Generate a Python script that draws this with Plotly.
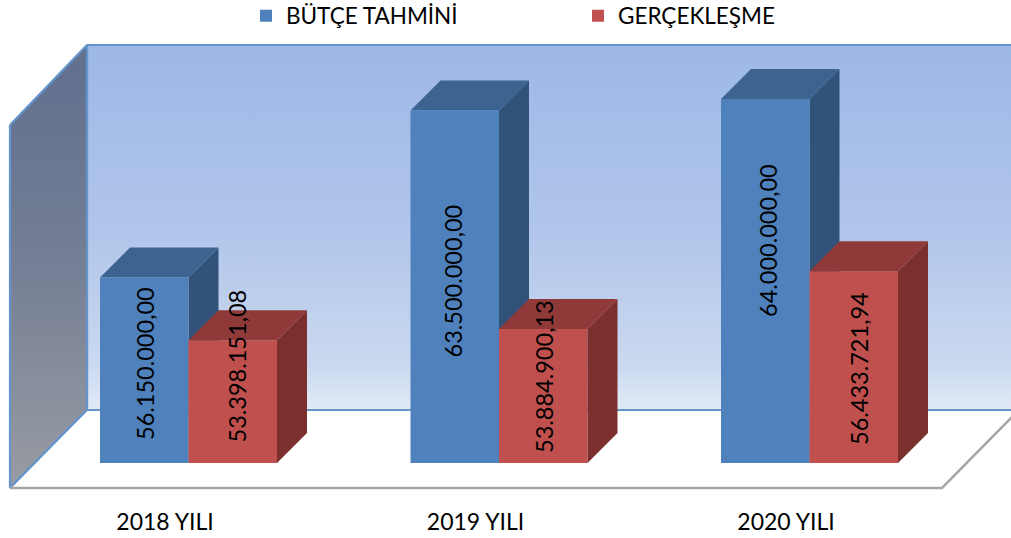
import plotly.graph_objects as go

categories = ["2018 YILI", "2019 YILI", "2020 YILI"]
butce_tahmini = [56150000.00, 63500000.00, 64000000.00]
gerceklesme = [53398151.08, 53884900.13, 56433721.94]
series_names = ["BÜTÇE TAHMİNİ", "GERÇEKLEŞME"]

W, H = 1011, 538
M_B = 38
AXIS_MIN = 48e6
PX_PER_UNIT_Y = 22.75 / 1e6
PX_PER_CAT = 310.5
X0_PX, Y0_PX = 188.5, 463.0
DEPTH_PX = 30
HALF = 88.5 / PX_PER_CAT

BLUE, BLUE_TOP, BLUE_SIDE = "#4F81BD", "#3D6390", "#315379"
RED, RED_TOP, RED_SIDE = "#C0504D", "#8F3A39", "#7B302E"
EDGE, FLOOR_EDGE = "#6394CC", "#A6A6A6"
FONT = "Lato"


def xd(px):
    return (px - X0_PX) / PX_PER_CAT


def yd(py):
    return AXIS_MIN + (Y0_PX - py) / PX_PER_UNIT_Y


DX = DEPTH_PX / PX_PER_CAT
DY = DEPTH_PX / PX_PER_UNIT_Y
XR = [xd(0), xd(W)]
YR = [yd(H - M_B), yd(0)]


def poly(xs, ys, fill=None, line=None, lw=0, axis="", grad=None):
    t = dict(x=xs, y=ys, mode="lines", fill="toself" if (fill or grad) else None,
             line=dict(color=line or "rgba(0,0,0,0)", width=lw),
             hoverinfo="skip", showlegend=False, xaxis="x" + axis, yaxis="y" + axis)
    if fill:
        t["fillcolor"] = fill
    if grad:
        t["fillgradient"] = grad
    return go.Scatter(**t)


fig = go.Figure()

# Room: back wall, left wall, floor
x_bl, x_fl, x_fr = xd(87), xd(10), xd(942)
fig.add_trace(poly([x_bl, XR[1] + 1, XR[1] + 1, x_bl, x_bl], [yd(45), yd(45), yd(410), yd(410), yd(45)],
                   line=EDGE, lw=2.2,
                   grad=dict(type="vertical", colorscale=[[0, "#E2EAF7"], [0.12, "#CBD9F0"], [0.5, "#B0C5EA"], [1, "#9DB7E6"]])))
fig.add_trace(poly([x_fl, x_bl, x_bl, x_fl, x_fl], [yd(125), yd(45), yd(410), yd(488), yd(125)],
                   line=EDGE, lw=2.2,
                   grad=dict(type="vertical", colorscale=[[0, "#989CA3"], [0.5, "#757F95"], [1, "#5F6F8E"]])))
fig.add_trace(poly([x_fl, x_bl, XR[1] + 1, XR[1] + 1, x_fr, x_fl], [yd(488), yd(410), yd(410), yd(418), yd(488), yd(488)],
                   fill="#FFFFFF"))
fig.add_trace(poly([x_fl, x_bl], [yd(488), yd(410)], line=EDGE, lw=2))
fig.add_trace(poly([x_bl, XR[1] + 1], [yd(410), yd(410)], line=EDGE, lw=2))
fig.add_trace(poly([x_fl, x_fr, xd(1013)], [yd(488), yd(488), yd(416)], line=FLOOR_EDGE, lw=2.5))


def faces(left, right, value, top_color, side_color, axis):
    base = AXIS_MIN
    fig.add_trace(poly([right, right + DX, right + DX, right, right],
                       [base, base + DY, value + DY, value, base], fill=side_color, axis=axis))
    fig.add_trace(poly([left, left + DX, right + DX, right, left],
                       [value, value + DY, value + DY, value, value], fill=top_color, axis=axis))


# Blue 3D faces sit behind the fronts; red 3D faces sit on top
for i, v in enumerate(butce_tahmini):
    faces(i - HALF, i, v, BLUE_TOP, BLUE_SIDE, "2")

cat_pos = list(range(len(categories)))
fig.add_trace(go.Bar(x=cat_pos, y=[v - AXIS_MIN for v in butce_tahmini], base=AXIS_MIN, name=series_names[0],
                     marker=dict(color=BLUE, line=dict(width=0)), xaxis="x3", yaxis="y3", hoverinfo="skip"))
fig.add_trace(go.Bar(x=cat_pos, y=[v - AXIS_MIN for v in gerceklesme], base=AXIS_MIN, name=series_names[1],
                     marker=dict(color=RED, line=dict(width=0)), xaxis="x3", yaxis="y3", hoverinfo="skip"))

for i, v in enumerate(gerceklesme):
    faces(i, i + HALF, v, RED_TOP, RED_SIDE, "4")


def fmt(v):
    return f"{v:,.2f}".replace(",", "X").replace(".", ",").replace("X", ".")


label_px = {
    0: [(145, 364), (236, 366.5)],
    1: [(452, 281.5), (544, 377)],
    2: [(768, 241), (859, 369)],
}
annotations = []
for i in cat_pos:
    for s, vals in enumerate((butce_tahmini, gerceklesme)):
        px, py = label_px[i][s]
        annotations.append(dict(text=fmt(vals[i]), x=xd(px), y=yd(py), xref="x", yref="y", showarrow=False,
                                textangle=-90, font=dict(family=FONT, size=23.5, color="#000000")))

axis_common = dict(range=XR, showgrid=False, zeroline=False)
yaxis_common = dict(range=YR, showgrid=False, zeroline=False, visible=False)
LABEL_SHIFT = 23.5 / PX_PER_CAT

fig.update_layout(
    width=W, height=H, autosize=False,
    margin=dict(l=0, r=0, t=0, b=M_B, autoexpand=False),
    paper_bgcolor="#FFFFFF", plot_bgcolor="rgba(0,0,0,0)",
    barmode="group", bargap=1 - 2 * HALF, bargroupgap=0,
    font=dict(family=FONT, color="#000000"),
    xaxis=dict(**axis_common, tickmode="array", tickvals=[i - LABEL_SHIFT for i in cat_pos], ticktext=categories,
               ticks="outside", ticklen=1, tickcolor="rgba(0,0,0,0)", showline=False,
               tickfont=dict(family=FONT, size=23, color="#000000")),
    yaxis=yaxis_common,
    xaxis2=dict(**axis_common, overlaying="x", visible=False),
    yaxis2=dict(**yaxis_common, overlaying="y"),
    xaxis3=dict(**axis_common, overlaying="x", visible=False),
    yaxis3=dict(**yaxis_common, overlaying="y"),
    xaxis4=dict(**axis_common, overlaying="x", visible=False),
    yaxis4=dict(**yaxis_common, overlaying="y"),
    legend=dict(orientation="h", x=246 / W, xanchor="left", y=1.011, yanchor="top", entrywidth=287,
                entrywidthmode="pixels", bgcolor="rgba(0,0,0,0)", font=dict(family=FONT, size=22.5, color="#000000")),
    annotations=annotations,
)

fig.write_html("out.html", config=dict(displayModeBar=False),
               post_script="document.body.style.margin='0';")
